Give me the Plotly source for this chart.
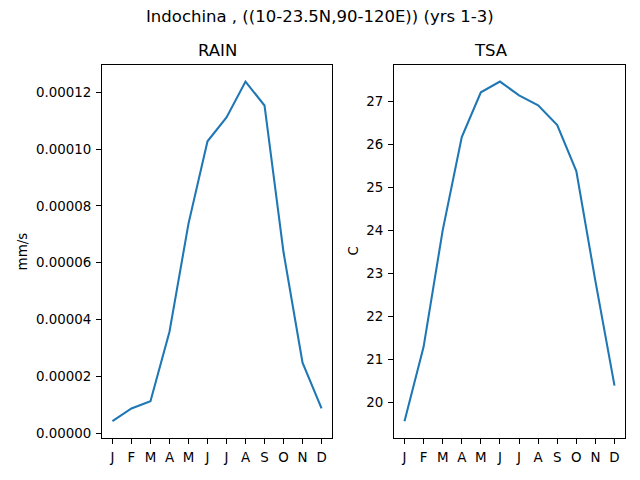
import plotly.graph_objects as go

months = ["J", "F", "M", "A", "M", "J", "J", "A", "S", "O", "N", "D"]
rain = [0.0000042, 0.0000087, 0.0000112, 0.0000357, 0.0000738, 0.0001028,
        0.0001112, 0.0001238, 0.0001154, 0.0000637, 0.0000248, 0.0000087]
tsa = [19.56, 21.29, 24.0, 26.17, 27.21, 27.46, 27.14, 26.91, 26.45, 25.38, 22.82, 20.39]
rain_ticks = [0.0, 0.00002, 0.00004, 0.00006, 0.00008, 0.00010, 0.00012]
tsa_ticks = [20, 21, 22, 23, 24, 25, 26, 27]

W, H = 640, 480
def px(x): return x / W
def py(y): return 1 - y / H

idx = list(range(len(months)))
font = dict(family="DejaVu Sans", size=13.4, color="black")
tfont = dict(family="DejaVu Sans", size=16.5, color="black")
fig = go.Figure()
fig.add_trace(go.Scatter(x=idx, y=rain, mode="lines", line=dict(color="#1f77b4", width=2.08),
                         xaxis="x", yaxis="y", showlegend=False))
fig.add_trace(go.Scatter(x=idx, y=tsa, mode="lines", line=dict(color="#1f77b4", width=2.08),
                         xaxis="x2", yaxis="y2", showlegend=False))

ax_common = dict(showline=True, linecolor="black", linewidth=1.1, mirror=True,
                 ticks="outside", ticklen=4.9, tickwidth=1.1, tickcolor="black",
                 showgrid=False, zeroline=False, tickfont=font, ticklabelstandoff=2)
xd1 = [px(102), px(332)]
xd2 = [px(394), px(625)]
yd = [py(441), py(65)]

fig.update_layout(
    width=W, height=H, margin=dict(l=0, r=0, t=0, b=0),
    paper_bgcolor="white", plot_bgcolor="white", font=font,
    xaxis=dict(domain=xd1, range=[-0.55, 11.55], tickvals=idx, ticktext=months, anchor="y", **ax_common),
    yaxis=dict(domain=yd, range=[-0.0000018, 0.0001298], tickvals=rain_ticks,
               tickformat=".5f", anchor="x", **ax_common),
    xaxis2=dict(domain=xd2, range=[-0.55, 11.55], tickvals=idx, ticktext=months, anchor="y2", **ax_common),
    yaxis2=dict(domain=yd, range=[19.165, 27.855], tickvals=tsa_ticks, anchor="x2", **ax_common),
    annotations=[
        dict(text="Indochina , ((10-23.5N,90-120E)) (yrs 1-3)", x=0.5, y=py(17), xref="paper", yref="paper",
             showarrow=False, font=tfont, yanchor="middle"),
        dict(text="RAIN", x=(xd1[0] + xd1[1]) / 2, y=py(51), xref="paper", yref="paper",
             showarrow=False, font=tfont, yanchor="middle"),
        dict(text="TSA", x=(xd2[0] + xd2[1]) / 2, y=py(51), xref="paper", yref="paper",
             showarrow=False, font=tfont, yanchor="middle"),
        dict(text="mm/s", x=px(22), y=(yd[0] + yd[1]) / 2, xref="paper", yref="paper", textangle=-90,
             showarrow=False, font=font, xanchor="center"),
        dict(text="C", x=px(353), y=(yd[0] + yd[1]) / 2, xref="paper", yref="paper", textangle=-90,
             showarrow=False, font=font, xanchor="center"),
    ],
)
fig.write_html("out.html", config={"displayModeBar": False},
               post_script="document.body.style.margin='0';document.body.style.overflow='hidden';"
                           "document.documentElement.style.overflow='hidden';")
